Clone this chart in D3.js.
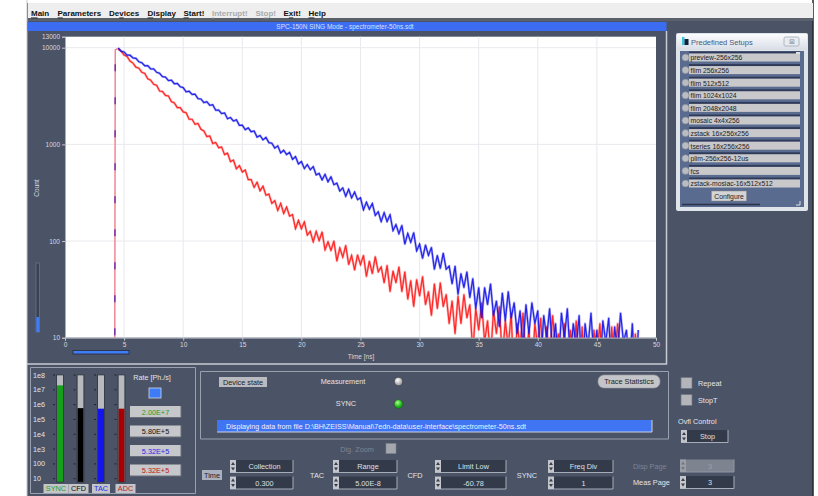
<!DOCTYPE html>
<html><head><meta charset="utf-8">
<script src="https://cdn.jsdelivr.net/npm/d3@7"></script>
<style>
body{margin:0;background:#fff;}
svg{display:block;font-family:"Liberation Sans",Arial,sans-serif;}
</style></head><body>
<svg id="c" width="818" height="496"></svg>
<script>
// ---------------- DATA ----------------
const timeStart = 4.5, timeStep = 0.25;   // ns, channel grid of both decays
const blueCounts = [9930,9192,9040,8397,8369,7836,7769,7142,6991,6505,
6527,6023,6045,5565,5443,5018,4967,4570,4620,4239,
4279,3947,3870,3488,3544,3284,3306,2973,2949,2701,
2765,2535,2569,2257,2267,2083,2119,1844,1897,1744,
1797,1572,1579,1419,1481,1352,1377,1189,1237,1114,
1182,1042,1029,914,965,816,869,784,827,700,
749,627,664,561,619,546,590,484,501,429,
490,410,462,383,397,329,355,290,343,279,
322,268,280,210,253,213,245,184,201,159,
197,159,187,128,148,119,145,93,120,97,
122,79,93,66,91,71,86,51,71,52,
75,51,55,36,55,28,46,33,48,26,
41,20,33,16,33,22,36,17,24,13,
29,15,30,16,23,11,19,8,22,11,
23,14,19,5,17,10,20,7,14,5,
18,10,20,6,14,8,17,3,14,8,
18,6,12,4,15,9,16,4,13,7,
18,9,12,5,14,3,12];
const redCounts = [9700,9206,8419,8112,7275,6935,6288,6135,5571,5415,
4772,4612,4188,4088,3569,3522,3207,3169,2771,2688,
2400,2402,2165,2123,1822,1820,1615,1647,1434,1375,
1202,1223,1021,1048,923,942,784,811,663,688,
559,603,517,543,431,433,359,406,330,370,
298,306,245,262,207,246,193,225,181,188,
134,164,134,158,115,126,98,126,101,124,
81,98,80,100,62,85,68,90,57,71,
50,72,57,71,43,62,46,69,48,54,
37,56,30,49,37,54,30,48,25,39,
21,40,27,43,22,30,17,36,20,37,
21,28,14,24,11,27,14,28,16,22,
7,20,12,23,9,15,6,19,11,21,
6,15,8,18,3,14,8,18,6,12,
4,14,8,16,4,13,6,17,8,11,
4,14,2,12,6,15,4,13,3,10,
2,12,6,14,4,9,2,13,5,14,
6,10,3,9,1,11,4];
const risePoints = [[4.2, 1], [4.25, 9500], [4.45, 9800]];
const xTicks = [0,5,10,15,20,25,30,35,40,45,50];
const yTicks = [10,100,1000,10000,13000];
const yGrid = [100,1000,10000];

const menuItems = [["Main",0,false],["Parameters",0,false],["Devices",2,false],["Display",0,false],["Start!",0,false],["Interrupt!",0,true],["Stop!",2,true],["Exit!",1,false],["Help",0,false]];
const setupNames = ["preview-256x256","flim 256x256","flim 512x512","flim 1024x1024","flim 2048x2048","mosaic 4x4x256","zstack 16x256x256","tseries 16x256x256","plim-256x256-12us","fcs","zstack-mosiac-16x512x512"];
const rateScaleLabels = ["1e8","1e7","1e6","1e5","1e4","1e3","100","10"];
const rateScaleValues = [1e8,1e7,1e6,1e5,1e4,1e3,100,10];
const rateChannels = ["SYNC","CFD","TAC","ADC"];
const rateValues = [2.00e7,5.80e5,5.32e5,5.32e5];
const rateTexts = ["2.00E+7","5.80E+5","5.32E+5","5.32E+5"];
const paramGroups = [["Time","Collection","0.300"],["TAC","Range","5.00E-8"],["CFD","Limit Low","-60.78"],["SYNC","Freq Div","1"]];
const fileText = "Displaying data from file D:\\BH\\ZEISS\\Manual\\7edn-data\\user-interface\\spectrometer-50ns.sdt";

// ---------------- STYLE ----------------
const BG = "#4b5366", LIGHT = "#c9ccd4", TXT = "#e2e4ea";
const svg = d3.select("#c");
const defs = svg.append("defs");

function text(g, x, y, s, o={}) {
  return g.append("text").attr("x", x).attr("y", y).text(s)
    .attr("font-size", o.size || 8).attr("fill", o.fill || TXT)
    .attr("text-anchor", o.anchor || "start")
    .attr("dominant-baseline", "central")
    .attr("font-weight", o.weight || "normal");
}
function frame(x, y, w, h, light, dark) {
  svg.append("path").attr("d", `M${x},${y+h}V${y}H${x+w}`).attr("fill","none").attr("stroke", dark || "#2c3140");
  svg.append("path").attr("d", `M${x+w},${y}V${y+h}H${x}`).attr("fill","none").attr("stroke", light || "#a4a9b6");
}

// app background
svg.append("rect").attr("x",27).attr("y",0).attr("width",786).attr("height",496).attr("fill",BG);
svg.append("rect").attr("x",0).attr("y",0).attr("width",818).attr("height",3).attr("fill","#fff");
svg.append("line").attr("x1",27).attr("x2",27).attr("y1",0).attr("y2",496).attr("stroke","#c8c8cc");
svg.append("line").attr("x1",813).attr("x2",813).attr("y1",0).attr("y2",496).attr("stroke","#20242c").attr("stroke-width",1.5);

// menu bar
svg.append("rect").attr("x",28).attr("y",3).attr("width",785).attr("height",15).attr("fill","#eeeeef");
svg.append("rect").attr("x",28).attr("y",18).attr("width",785).attr("height",3).attr("fill","#5a606c");
{
  const xs = [31,57.5,109,147.5,183.5,212,255.5,283.5,308.5];
  menuItems.forEach((m,i) => {
    const t = svg.append("text").attr("x", xs[i]).attr("y", 12.5).attr("font-size", 8).attr("font-weight","bold")
      .attr("dominant-baseline","central").attr("fill", m[2] ? "#a9a9a9" : "#111");
    const s = m[0];
    t.append("tspan").text(s.slice(0,m[1]));
    t.append("tspan").text(s[m[1]]).attr("text-decoration","underline");
    t.append("tspan").text(s.slice(m[1]+1));
  });
}

// ---------------- GRAPH PANEL ----------------
svg.append("rect").attr("x",27.5).attr("y",22).attr("width",639).attr("height",9).attr("fill","#3b6cf2");
text(svg, 345, 26.8, "SPC-150N  SING Mode - spectrometer-50ns.sdt", {size:6.5, anchor:"middle", fill:"#d8e2ff"});
svg.append("path").attr("d","M666.5,31V364H27").attr("fill","none").attr("stroke",LIGHT).attr("stroke-width",1.5);

const x = d3.scaleLinear().domain([0,50]).range([65,656]);
const y = d3.scaleLog().domain([10,13000]).range([337.7,36.7]);
svg.append("rect").attr("x",65).attr("y",36.7).attr("width",591).attr("height",301).attr("fill","#fff");

const grid = svg.append("g");
grid.selectAll(".gx").data(xTicks.slice(1,-1)).join("line")
  .attr("x1",d=>x(d)).attr("x2",d=>x(d)).attr("y1",y(13000)).attr("y2",y(10)).attr("stroke","#e9e9ee");
grid.selectAll(".gy").data(yGrid).join("line")
  .attr("x1",x(0)).attr("x2",x(50)).attr("y1",d=>y(d)).attr("y2",d=>y(d)).attr("stroke","#e9e9ee");

defs.append("clipPath").attr("id","plotclip").append("rect")
  .attr("x",65).attr("y",36.7).attr("width",591).attr("height",301);
const plot = svg.append("g").attr("clip-path","url(#plotclip)");

const line = d3.line().x(d=>x(d[0])).y(d=>y(Math.max(d[1],0.1)));
const toPts = arr => arr.map((v,i)=>[timeStart + i*timeStep, v]);
plot.append("path").datum(risePoints).attr("d", line).attr("fill","none").attr("stroke","#f07c8c").attr("stroke-width",1.4);
plot.append("path").datum(risePoints).attr("d", line).attr("fill","none").attr("stroke","#6a2aa8").attr("stroke-width",1.4).attr("stroke-dasharray","7,26");
[[redCounts,"#ff1a1a"],[blueCounts,"#1515e8"]].forEach(([arr,col]) => {
  plot.append("path").datum(toPts(arr)).attr("d", line).attr("fill","none").attr("stroke",col)
    .attr("stroke-width",2.4).attr("stroke-opacity",0.35).attr("stroke-linejoin","round");
  plot.append("path").datum(toPts(arr)).attr("d", line).attr("fill","none").attr("stroke",col)
    .attr("stroke-width",1.2).attr("stroke-opacity",0.9);
});

const ax = svg.append("g").attr("transform","translate(0,337.7)")
  .call(d3.axisBottom(x).tickValues(xTicks).tickSize(3).tickPadding(2).tickFormat(d3.format("d")));
const ay = svg.append("g").attr("transform","translate(65,0)")
  .call(d3.axisLeft(y).tickValues(yTicks).tickSize(3).tickPadding(2).tickFormat(d3.format("d")));
[ax, ay].forEach(a => {
  a.select(".domain").attr("stroke","#aab0bc");
  a.selectAll(".tick line").attr("stroke","#c0c4cc");
  a.selectAll(".tick text").attr("fill","#d6d9e0").attr("font-size",6.5).attr("font-family","Liberation Sans, Arial, sans-serif");
});
text(svg, 361, 356, "Time [ns]", {size:6.5, anchor:"middle", fill:"#d6d9e0"});
svg.append("text").attr("transform","translate(36.5,188) rotate(-90)").attr("text-anchor","middle")
  .attr("dominant-baseline","central").attr("font-size",6.5).attr("fill","#d6d9e0").text("Count");

// scrollbars
svg.append("rect").attr("x",36).attr("y",263).attr("width",3.5).attr("height",69).attr("fill","#3a4152").attr("stroke","#707888").attr("stroke-width",0.7);
svg.append("rect").attr("x",36.3).attr("y",317).attr("width",3).attr("height",15).attr("fill","#3f7cf5");
svg.append("rect").attr("x",73).attr("y",350.5).attr("width",56).attr("height",3.5).attr("fill","#3f7cf5").attr("stroke","#262b38").attr("stroke-width",0.8);

// ---------------- PREDEFINED SETUPS ----------------
svg.append("rect").attr("x",676).attr("y",33).attr("width",132).attr("height",178).attr("fill","#dfe3ea").attr("rx",2);
const tg = defs.append("linearGradient").attr("id","tgrad").attr("x1",0).attr("x2",0).attr("y1",0).attr("y2",1);
tg.append("stop").attr("offset","0").attr("stop-color","#fbfcfe");
tg.append("stop").attr("offset","1").attr("stop-color","#d8dde6");
svg.append("rect").attr("x",677).attr("y",34).attr("width",130).attr("height",16).attr("fill","url(#tgrad)");
svg.append("rect").attr("x",682).attr("y",37).attr("width",2.5).attr("height",8).attr("fill","#39c6d8");
svg.append("rect").attr("x",684.5).attr("y",39).attr("width",4).attr("height",6).attr("fill","#102040");
text(svg, 691, 42, "Predefined Setups", {size:7.5, fill:"#4a5a80"});
svg.append("rect").attr("x",784).attr("y",37).attr("width",15).attr("height",9).attr("fill","#e8ebf0").attr("stroke","#9aa0aa").attr("stroke-width",0.7).attr("rx",1.5);
text(svg, 791.5, 41.5, "⊠", {size:7, anchor:"middle", fill:"#8a909a"});
svg.append("rect").attr("x",680).attr("y",51).attr("width",124).attr("height",156).attr("fill","#5a6b90");
setupNames.forEach((s,i) => {
  const yc = 57.5 + i*12.6;
  svg.append("rect").attr("x",689).attr("y",yc-6).attr("width",111).attr("height",2).attr("fill","#2f3a58");
  svg.append("rect").attr("x",689).attr("y",yc-4).attr("width",111).attr("height",8).attr("fill","#c9c9cb");
  svg.append("circle").attr("cx",685.5).attr("cy",yc).attr("r",3.6).attr("fill","#b9bcc2").attr("stroke","#7a808c").attr("stroke-width",0.6);
  text(svg, 690.5, yc+0.3, s, {size:6.8, fill:"#222"});
});
svg.append("rect").attr("x",796).attr("y",52).attr("width",4).attr("height",2).attr("fill","#e0e0e0");
svg.append("rect").attr("x",711.5).attr("y",191).attr("width",35).attr("height",10).attr("fill","#d4d4d6").attr("stroke","#888").attr("stroke-width",0.5);
text(svg, 729, 196.2, "Configure", {size:6.8, anchor:"middle", fill:"#222"});
svg.append("line").attr("x1",682).attr("x2",760).attr("y1",204.5).attr("y2",204.5).attr("stroke","#2a3248").attr("stroke-width",1.5);
svg.append("path").attr("d","M800,201V205H796").attr("fill","none").attr("stroke","#e0e0e0");

// ---------------- RATE METERS ----------------
frame(30.5, 367.5, 165, 126, "#9aa0ad", "#9aa0ad");
const ry = d3.scaleLog().domain([10,1e8]).range([478.7,375]);
rateScaleLabels.forEach((l,i) => text(svg, 33, ry(rateScaleValues[i]), l, {size:7.2, fill:TXT}));
const barX = [57, 77.5, 98, 118.5];
const barCol = ["#16a01a","#000","#1414ee","#a80000"];
const labelCol = ["#28a028","#111","#2a2ae8","#c01818"];
rateChannels.forEach((c,i) => {
  svg.append("rect").attr("x",barX[i]).attr("y",375).attr("width",6).attr("height",107).attr("fill","#b7b9bd");
  svg.append("rect").attr("x",barX[i]).attr("y",ry(rateValues[i])).attr("width",6).attr("height",482-ry(rateValues[i])).attr("fill",barCol[i]);
  svg.append("rect").attr("x",barX[i]-0.5).attr("y",375).attr("width",7).attr("height",107).attr("fill","none").attr("stroke","#2a2f3a").attr("stroke-width",0.6);
  rateScaleValues.forEach(v => svg.append("line").attr("x1",barX[i]-4).attr("x2",barX[i]-2).attr("y1",ry(v)).attr("y2",ry(v)).attr("stroke","#202430"));
  const lw = [25,20,18,20][i], lx = [43.5,68.5,92,115.5][i];
  svg.append("rect").attr("x",lx).attr("y",484).attr("width",lw).attr("height",9).attr("fill","#c4c5c8");
  text(svg, lx+lw/2, 488.7, c, {size:7.3, anchor:"middle", fill:labelCol[i]});
});
text(svg, 152, 377, "Rate [Ph./s]", {size:7.2, anchor:"middle", fill:TXT});
svg.append("rect").attr("x",149).attr("y",388).attr("width",12).attr("height",10).attr("fill","#3d7cf6").attr("stroke","#d0d6e8").attr("stroke-width",0.8);
rateTexts.forEach((t,i) => {
  const by = 406 + i*19.5;
  svg.append("rect").attr("x",130).attr("y",by).attr("width",51).attr("height",11.5).attr("fill","#c6c7ca");
  svg.append("path").attr("d",`M130,${by+11.5}H181V${by}`).attr("fill","none").attr("stroke","#6a6e78");
  text(svg, 155.5, by+6, t, {size:7.3, anchor:"middle", fill:labelCol[i]});
});

// ---------------- DEVICE STATE PANEL ----------------
frame(200.5, 371.5, 468, 67.5, "#9aa0ad", "#9aa0ad");
svg.append("rect").attr("x",219).attr("y",377).attr("width",48).attr("height",10).attr("fill","#b9bbc0");
text(svg, 243, 382.2, "Device state", {size:7.3, anchor:"middle", fill:"#222"});
text(svg, 343, 381.3, "Measurement", {size:7.3, anchor:"middle", fill:TXT});
text(svg, 346, 403.5, "SYNC", {size:7.3, anchor:"middle", fill:TXT});
const lg1 = defs.append("radialGradient").attr("id","ledw").attr("cx","0.4").attr("cy","0.35");
lg1.append("stop").attr("offset","0").attr("stop-color","#ffffff");
lg1.append("stop").attr("offset","1").attr("stop-color","#a8aab0");
const lg2 = defs.append("radialGradient").attr("id","ledg").attr("cx","0.4").attr("cy","0.35");
lg2.append("stop").attr("offset","0").attr("stop-color","#aaff8a");
lg2.append("stop").attr("offset","1").attr("stop-color","#10b010");
svg.append("circle").attr("cx",398.5).attr("cy",381.5).attr("r",4.2).attr("fill","url(#ledw)").attr("stroke","#333").attr("stroke-width",0.6);
svg.append("circle").attr("cx",398.5).attr("cy",404).attr("r",4.4).attr("fill","url(#ledg)").attr("stroke","#2a4a2a").attr("stroke-width",0.6);
svg.append("rect").attr("x",598).attr("y",375).attr("width",62).attr("height",13).attr("rx",6).attr("fill","#c4c5c9").attr("stroke","#9a9ca4").attr("stroke-width",0.6);
text(svg, 629, 381.7, "Trace Statistics", {size:7.3, anchor:"middle", fill:"#222"});
svg.append("rect").attr("x",217).attr("y",420).attr("width",435).attr("height",12).attr("fill","#3f74f3");
svg.append("path").attr("d","M217,432H652V420").attr("fill","none").attr("stroke","#cdd2e0");
text(svg, 226, 426.2, fileText, {size:7.2, fill:"#eef2ff"});

// ---------------- RIGHT CONTROLS ----------------
function checkbox(cx, cy) {
  svg.append("rect").attr("x",cx).attr("y",cy).attr("width",11).attr("height",11).attr("fill","#b3b5ba").attr("stroke","#70747e").attr("stroke-width",0.7);
}
checkbox(681, 377.5); text(svg, 698, 383.2, "Repeat", {size:7.3});
checkbox(681, 394.5); text(svg, 698, 400.2, "StopT", {size:7.3});
text(svg, 678, 421, "Ovfl Control", {size:7.3});

function spinner(x0, y0, w, label, disabled) {
  const h = 12.5;
  svg.append("rect").attr("x",x0).attr("y",y0).attr("width",w).attr("height",h).attr("fill", disabled ? "#7e8390" : "#333a4a");
  svg.append("path").attr("d",`M${x0},${y0+h}H${x0+w}V${y0}`).attr("fill","none").attr("stroke", disabled ? "#9096a2" : "#a7adb8");
  svg.append("rect").attr("x",x0).attr("y",y0).attr("width",6).attr("height",h).attr("fill", disabled ? "#9a9ea8" : "#c3c6cc");
  svg.append("path").attr("d",`M${x0+1},${y0+5}L${x0+3},${y0+2}L${x0+5},${y0+5}Z M${x0+1},${y0+7.5}L${x0+3},${y0+10.5}L${x0+5},${y0+7.5}Z`).attr("fill", disabled ? "#777" : "#3a3e48");
  text(svg, x0 + 6 + (w-6)/2, y0 + h/2 + 0.4, label, {size:7.3, anchor:"middle", fill: disabled ? "#9aa0ab" : "#dde0e6"});
}
spinner(681, 430, 47, "Stop");
text(svg, 633, 466, "Disp Page", {size:7.3, fill:"#7e8594"});
spinner(680, 459.5, 54, "3", true);
text(svg, 633, 482.5, "Meas Page", {size:7.3});
spinner(680, 476, 54, "3");

// ---------------- BOTTOM PARAMETERS ----------------
text(svg, 357, 449, "Dig. Zoom", {size:7.3, anchor:"middle", fill:"#7e8594"});
svg.append("rect").attr("x",386).attr("y",443.5).attr("width",10).attr("height",10).attr("fill","#a4a7ae").attr("stroke","#80848e").attr("stroke-width",0.6);
const gX = [[202,230],[317,333],[415,435],[527,548]];
const gW = [63,64,71,65];
paramGroups.forEach((p,i) => {
  if (i === 0) {
    svg.append("rect").attr("x",202).attr("y",470).attr("width",20).attr("height",10).attr("fill","#aab0be");
    text(svg, 212, 475.3, p[0], {size:7.3, anchor:"middle", fill:"#1e2230"});
  } else {
    text(svg, gX[i][0], 475.3, p[0], {size:7.3, anchor:"middle"});
  }
  spinner(gX[i][1], 460, gW[i], p[1]);
  spinner(gX[i][1], 476.5, gW[i], p[2]);
});
</script>
</body></html>
